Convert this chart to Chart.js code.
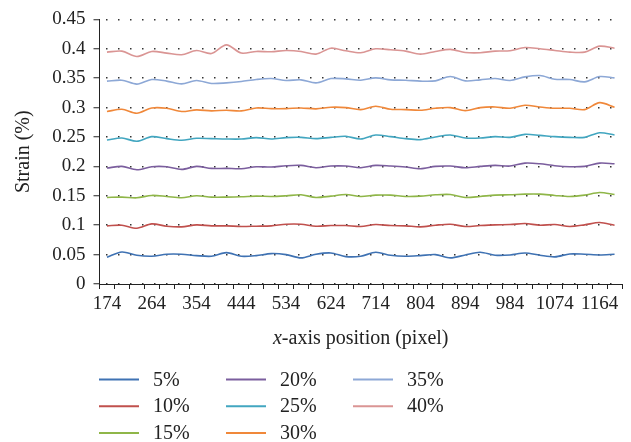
<!DOCTYPE html>
<html>
<head>
<meta charset="utf-8">
<script src="https://cdn.jsdelivr.net/npm/chart.js@4/dist/chart.umd.min.js"></script>
<style>
  html, body { margin: 0; padding: 0; background: #fff; }
  #wrap { position: relative; width: 631px; height: 442px; }
</style>
</head>
<body>
<div id="wrap"><canvas id="strain-chart" width="631" height="442"></canvas></div>
<script>
// x positions (pixel) of the measured points
const positions = [174, 204, 234, 264, 294, 324, 354, 384, 414, 444, 474, 504,
    534, 564, 594, 624, 654, 684, 714, 744, 774, 804, 834, 864, 894, 924, 954,
    984, 1014, 1044, 1074, 1104, 1134, 1164, 1194];

const yTickLabels = ['0', '0.05', '0.1', '0.15', '0.2', '0.25', '0.3', '0.35', '0.4', '0.45'];

const seriesNames = ['5%', '10%', '15%', '20%', '25%', '30%', '35%', '40%'];
const seriesColors = ['#3F72B3', '#C0504D', '#8FB648', '#7B5E9E', '#42A6C0', '#F0883A', '#8DA8D6', '#DA9594'];

// strain readings per load level
const strain5 = [0.0455, 0.0545, 0.0489, 0.0472, 0.0506, 0.0506, 0.0483, 0.0472, 0.0534, 0.0472,
    0.0483, 0.0517, 0.0500, 0.0444, 0.0506, 0.0528, 0.0466, 0.0472, 0.0539, 0.0489, 0.0472,
    0.0483, 0.0500, 0.0444, 0.0494, 0.0539, 0.0489, 0.0494, 0.0528, 0.0489, 0.0461, 0.0511,
    0.0506, 0.0494, 0.0506];
const strain10 = [0.0989, 0.1000, 0.0949, 0.1022, 0.0983, 0.0972, 0.1006, 0.0989, 0.0989, 0.0978,
    0.0983, 0.0989, 0.1017, 0.1017, 0.0983, 0.0994, 0.0994, 0.0978, 0.1011, 0.0994, 0.0989,
    0.0972, 0.1000, 0.1017, 0.0978, 0.0994, 0.1006, 0.1011, 0.1028, 0.1000, 0.1011, 0.0978,
    0.1006, 0.1045, 0.1000];
const strain15 = [0.1472, 0.1478, 0.1466, 0.1506, 0.1489, 0.1466, 0.1500, 0.1478, 0.1478, 0.1483,
    0.1494, 0.1489, 0.1500, 0.1517, 0.1472, 0.1494, 0.1522, 0.1489, 0.1511, 0.1511, 0.1489,
    0.1494, 0.1517, 0.1522, 0.1472, 0.1489, 0.1511, 0.1517, 0.1528, 0.1528, 0.1506, 0.1489,
    0.1511, 0.1556, 0.1522];
const strain20 = [0.1972, 0.2000, 0.1944, 0.1994, 0.1994, 0.1949, 0.2000, 0.1966, 0.1966, 0.1961,
    0.1994, 0.1989, 0.2011, 0.2017, 0.1978, 0.2006, 0.2006, 0.1978, 0.2017, 0.2006, 0.1989,
    0.1961, 0.2000, 0.2006, 0.1978, 0.2000, 0.2017, 0.2006, 0.2056, 0.2045, 0.2011, 0.1994,
    0.2000, 0.2056, 0.2045];
const strain25 = [0.2449, 0.2483, 0.2427, 0.2506, 0.2472, 0.2444, 0.2478, 0.2472, 0.2466, 0.2466,
    0.2489, 0.2466, 0.2489, 0.2494, 0.2472, 0.2494, 0.2511, 0.2466, 0.2534, 0.2506, 0.2472,
    0.2455, 0.2500, 0.2534, 0.2483, 0.2483, 0.2506, 0.2494, 0.2545, 0.2528, 0.2506, 0.2494,
    0.2494, 0.2573, 0.2534];
const strain30 = [0.2933, 0.2972, 0.2904, 0.2994, 0.2989, 0.2933, 0.2961, 0.2944, 0.2955, 0.2944,
    0.2994, 0.2983, 0.2983, 0.2994, 0.2978, 0.3006, 0.3000, 0.2966, 0.3022, 0.2972, 0.2966,
    0.2955, 0.2989, 0.3000, 0.2949, 0.3000, 0.3011, 0.2989, 0.3039, 0.3011, 0.2989, 0.2989,
    0.2966, 0.3084, 0.3006];
const strain35 = [0.3450, 0.3466, 0.3399, 0.3478, 0.3450, 0.3404, 0.3461, 0.3410, 0.3421, 0.3444,
    0.3478, 0.3494, 0.3461, 0.3472, 0.3421, 0.3494, 0.3489, 0.3466, 0.3506, 0.3472, 0.3466,
    0.3450, 0.3455, 0.3528, 0.3455, 0.3472, 0.3494, 0.3461, 0.3522, 0.3545, 0.3483, 0.3478,
    0.3438, 0.3528, 0.3506];
const strain40 = [0.3944, 0.3960, 0.3870, 0.3955, 0.3927, 0.3900, 0.3970, 0.3920, 0.4067, 0.3927,
    0.3955, 0.3950, 0.3970, 0.3955, 0.3910, 0.4010, 0.3966, 0.3933, 0.4000, 0.3983, 0.3960,
    0.3910, 0.3955, 0.3990, 0.3938, 0.3933, 0.3960, 0.3966, 0.4022, 0.4000, 0.3972, 0.3944,
    0.3944, 0.4045, 0.4010];

const allSeries = [strain5, strain10, strain15, strain20, strain25, strain30, strain35, strain40];

const serif = "'Liberation Serif', 'Times New Roman', serif";

// x-axis title with italic "x", drawn under the tick labels
const xTitlePlugin = {
    id: 'xTitle',
    afterDraw(chart) {
        const ctx = chart.ctx;
        const area = chart.chartArea;
        const rest = '-axis position (pixel)';
        ctx.save();
        ctx.fillStyle = '#222';
        ctx.textBaseline = 'middle';
        ctx.font = 'italic 20px ' + serif;
        const wx = ctx.measureText('x').width;
        ctx.font = '20px ' + serif;
        const wr = ctx.measureText(rest).width;
        let x = (area.left + area.right) / 2 - (wx + wr) / 2;
        ctx.font = 'italic 20px ' + serif;
        ctx.fillText('x', x, 339);
        ctx.font = '20px ' + serif;
        ctx.fillText(rest, x + wx, 339);
        ctx.restore();
    }
};

// legend laid out in columns of three, like the original
const gridLegendPlugin = {
    id: 'gridLegend',
    afterDraw(chart) {
        const ctx = chart.ctx;
        ctx.save();
        ctx.font = '20px ' + serif;
        ctx.textBaseline = 'middle';
        chart.data.datasets.forEach((ds, i) => {
            const col = Math.floor(i / 3);
            const row = i % 3;
            const x = 99 + col * 127;
            const y = 379.5 + row * 26.7;
            ctx.strokeStyle = ds.borderColor;
            ctx.lineWidth = 2;
            ctx.beginPath();
            ctx.moveTo(x, y);
            ctx.lineTo(x + 40, y);
            ctx.stroke();
            ctx.fillStyle = '#222';
            ctx.fillText(ds.label, x + 54, y + 1);
        });
        ctx.restore();
    }
};

function initStrainChart() {
    const canvas = document.getElementById('strain-chart');
    const ctx = canvas.getContext('2d');

    const datasets = allSeries.map((values, i) => ({
        label: seriesNames[i],
        data: values,
        borderColor: seriesColors[i],
        backgroundColor: seriesColors[i],
        borderWidth: 1.6,
        pointRadius: 0,
        tension: 0.3,
        fill: false
    }));

    new Chart(ctx, {
        type: 'line',
        data: { labels: positions, datasets: datasets },
        options: {
            responsive: false,
            animation: false,
            layout: { padding: { top: 17, right: 9, left: 0, bottom: 0 } },
            plugins: {
                legend: { display: false },
                tooltip: { enabled: false }
            },
            scales: {
                x: {
                    type: 'category',
                    offset: true,
                    afterFit: s => { s.height = 158; },
                    grid: {
                        offset: true,
                        drawOnChartArea: false,
                        drawTicks: true,
                        tickLength: 5,
                        tickColor: '#222',
                        tickWidth: 1
                    },
                    border: { display: true, color: '#222', width: 1 },
                    ticks: {
                        autoSkip: false,
                        maxRotation: 0,
                        padding: 4,
                        color: '#222',
                        font: { family: serif, size: 19 },
                        callback: (v, i) => (i % 3 === 0 ? String(positions[i]) : '')
                    }
                },
                y: {
                    min: 0,
                    max: 0.45,
                    afterFit: s => { s.width = 99.5; },
                    grid: {
                        color: '#333',
                        lineWidth: 1.5,
                        tickBorderDash: [],
                        tickColor: '#222',
                        tickLength: 6,
                        tickWidth: 1
                    },
                    // in v4 the dash of the grid lines lives on border
                    border: { display: true, color: '#222', width: 1, dash: [1.5, 10.5], dashOffset: -6 },
                    ticks: {
                        stepSize: 0.05,
                        padding: 8,
                        color: '#222',
                        font: { family: serif, size: 19 },
                        callback: (v, i) => yTickLabels[i]
                    },
                    title: {
                        display: true,
                        text: 'Strain (%)',
                        color: '#222',
                        padding: { top: 12, bottom: 0 },
                        font: { family: serif, size: 20 }
                    }
                }
            }
        },
        plugins: [xTitlePlugin, gridLegendPlugin]
    });
}

document.addEventListener('DOMContentLoaded', initStrainChart);
</script>
</body>
</html>
